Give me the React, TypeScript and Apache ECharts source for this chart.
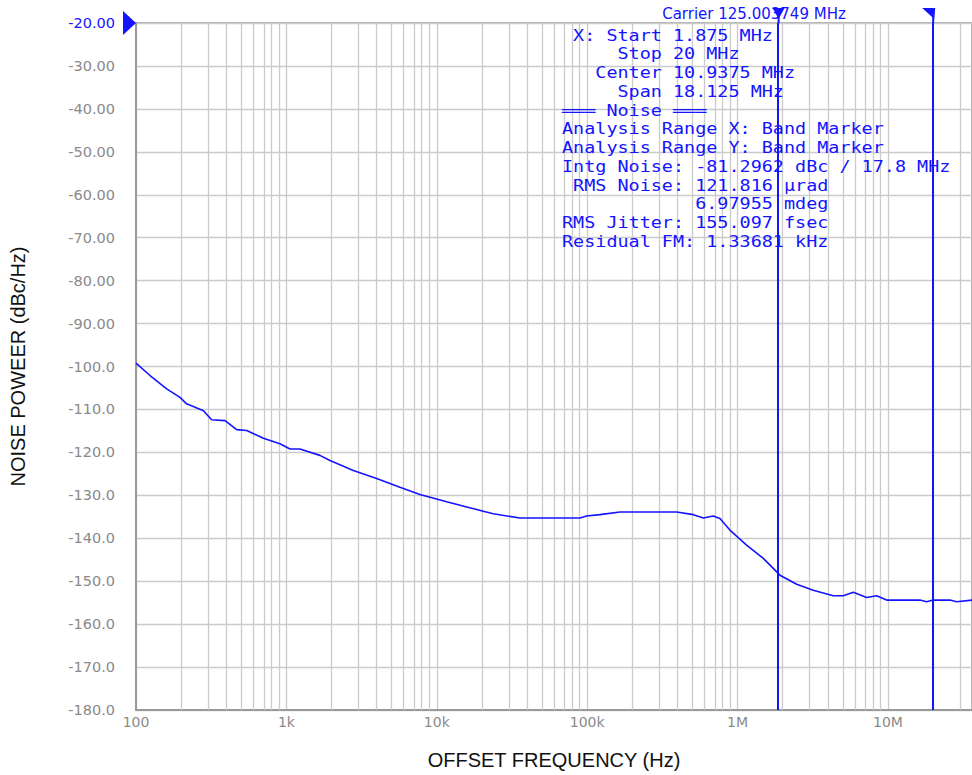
import React, { useEffect, useRef } from 'react';
import * as echarts from 'echarts';

// Offset frequency (Hz) and measured phase noise (dBc/Hz)
const freqHz = [
  100, 124, 160, 196, 217, 281, 318, 391, 467, 545, 703, 906, 1057, 1230, 1671, 1950,
  2786, 3981, 5689, 7727, 11640, 15810, 20370, 23770, 35730, 89540, 99080, 121600,
  165200, 393600, 508200, 592900, 690200, 763800, 889200, 1148000, 1483000, 1914000,
  2472000, 3184000, 4325000, 5047000, 5888000, 7211000, 8414000, 9795000, 16330000,
  18070000, 20000000, 25820000, 28640000, 36220000,
];
const noiseDbc = [
  -99.2, -102.1, -105.2, -107.2, -108.7, -110.3, -112.4, -112.6, -114.7, -114.9, -116.7,
  -118.0, -119.2, -119.2, -120.7, -121.9, -124.2, -126.1, -128.1, -129.8, -131.5, -132.7,
  -133.7, -134.3, -135.3, -135.3, -134.8, -134.5, -133.9, -133.9, -134.5, -135.3, -134.8,
  -135.4, -138.1, -141.6, -144.7, -148.6, -150.7, -152.1, -153.4, -153.4, -152.6, -153.8,
  -153.4, -154.4, -154.4, -154.8, -154.4, -154.4, -154.8, -154.4,
];

// Axis structure
const decades = [100, 1e3, 1e4, 1e5, 1e6, 1e7];
const xTickLabels = ['100', '1k', '10k', '100k', '1M', '10M'];
const minorMultipliers = [2, 3, 4, 5, 6, 7, 8, 9];
const xMinHz = 100;
const xMaxHz = 36220000;
const yMin = -180;
const yMax = -20;
const yStep = 10;

// Band markers (Hz)
const markerFreqs = [1875000, 20000000];

const carrierText = 'Carrier 125.003749 MHz';
const infoLines = [
  ' X: Start 1.875 MHz',
  '     Stop 20 MHz',
  '   Center 10.9375 MHz',
  '     Span 18.125 MHz',
  '═══ Noise ═══',
  'Analysis Range X: Band Marker',
  'Analysis Range Y: Band Marker',
  'Intg Noise: -81.2962 dBc / 17.8 MHz',
  ' RMS Noise: 121.816 µrad',
  '            6.97955 mdeg',
  'RMS Jitter: 155.097 fsec',
  'Residual FM: 1.33681 kHz',
];

const BLUE = '#1414ff';
const GRID = '#cbcbcb';
const AXIS = '#9a9a9a';
const LABEL = '#8a8a8a';

export default function App() {
  const ref = useRef<HTMLDivElement>(null);

  useEffect(() => {
    const chart = echarts.init(ref.current!, null, { renderer: 'svg' });
    const lg = (f: number) => Math.log10(f);
    const xMax = lg(xMaxHz);

    const labelMap: Record<number, string> = {};
    decades.forEach((d, i) => {
      labelMap[Math.round(lg(d))] = xTickLabels[i];
    });

    const minorLines: any[] = [];
    decades.forEach((d) =>
      minorMultipliers.forEach((m) => {
        const v = lg(d * m);
        if (v < xMax) minorLines.push({ xAxis: v });
      })
    );

    const seriesData = freqHz.map((f, i) => [lg(f), noiseDbc[i]]);

    chart.setOption({
      animation: false,
      grid: {
        left: 136,
        top: 23,
        right: 0,
        bottom: 63,
        show: true,
        borderColor: AXIS,
        borderWidth: 1.5,
      },
      xAxis: {
        type: 'value',
        min: lg(xMinHz),
        max: xMax,
        interval: 1,
        name: 'OFFSET FREQUENCY (Hz)',
        nameLocation: 'middle',
        nameGap: 40,
        nameTextStyle: { fontFamily: 'Liberation Sans', fontSize: 20, color: '#111' },
        axisLine: { show: true, lineStyle: { color: AXIS, width: 2 } },
        axisTick: { show: false },
        axisLabel: {
          margin: 5,
          fontFamily: 'DejaVu Sans',
          fontSize: 14,
          color: LABEL,
          showMaxLabel: false,
          formatter: (v: number) =>
            Math.abs(v - Math.round(v)) < 1e-6 ? labelMap[Math.round(v)] ?? '' : '',
        },
        splitLine: { show: true, lineStyle: { color: GRID, width: 1.3 } },
      },
      yAxis: {
        type: 'value',
        min: yMin,
        max: yMax,
        interval: yStep,
        name: 'NOISE POWEER (dBc/Hz)',
        nameLocation: 'middle',
        nameGap: 108,
        nameRotate: 90,
        nameTextStyle: { fontFamily: 'Liberation Sans', fontSize: 20, color: '#111' },
        axisLine: { show: true, lineStyle: { color: AXIS, width: 2 } },
        axisTick: { show: false },
        axisLabel: {
          margin: 21,
          fontFamily: 'DejaVu Sans',
          fontSize: 14.5,
          color: (v: any) => (Number(v) === yMax ? BLUE : LABEL),
          formatter: (v: number) => v.toPrecision(4),
        },
        splitLine: { show: true, lineStyle: { color: GRID, width: 1.3 } },
      },
      series: [
        {
          type: 'line',
          name: 'minor-grid',
          data: [seriesData[0]],
          showSymbol: false,
          silent: true,
          lineStyle: { opacity: 0 },
          z: 1,
          markLine: {
            silent: true,
            symbol: ['none', 'none'],
            label: { show: false },
            lineStyle: { color: GRID, width: 1.3, type: 'solid' },
            data: minorLines,
          },
        },
        {
          type: 'line',
          name: 'noise',
          data: seriesData,
          showSymbol: false,
          lineStyle: { color: BLUE, width: 1.6 },
          z: 5,
          markLine: {
            silent: true,
            symbol: ['none', 'none'],
            label: { show: false },
            lineStyle: { color: BLUE, width: 2, type: 'solid' },
            data: markerFreqs.map((f) => ({ xAxis: lg(f) })),
          },
        },
      ],
    });

    const topY = chart.convertToPixel({ yAxisIndex: 0 }, yMax) as number;
    const leftX = chart.convertToPixel({ xAxisIndex: 0 }, lg(xMinHz)) as number;
    const mx = markerFreqs.map((f) => chart.convertToPixel({ xAxisIndex: 0 }, lg(f)) as number);

    const graphics: any[] = [
      {
        type: 'polygon',
        shape: { points: [[leftX - 13, topY - 12], [leftX - 13, topY + 12], [leftX, topY]] },
        style: { fill: BLUE },
        z: 100,
      },
      {
        type: 'text',
        x: 754,
        y: 14,
        style: {
          text: carrierText,
          font: '15px "DejaVu Sans"',
          fill: BLUE,
          align: 'center',
          verticalAlign: 'middle',
        },
        z: 100,
      },
      {
        type: 'text',
        x: 562,
        y: 26,
        scaleX: 1.23,
        style: {
          text: infoLines.join('\n'),
          font: '15px "DejaVu Sans Mono"',
          fill: BLUE,
          lineHeight: 18.73,
          verticalAlign: 'top',
        },
        z: 100,
      },
    ];
    mx.forEach((x, i) => {
      graphics.push({
        type: 'line',
        shape: { x1: x, y1: 9, x2: x, y2: topY },
        style: { stroke: BLUE, lineWidth: 2 },
        z: 100,
      });
      graphics.push({
        type: 'polygon',
        shape: {
          points:
            i === 0
              ? [[x - 6, 8], [x + 6, 8], [x, 19]]
              : [[x - 11, 8], [x + 2, 8], [x + 1, 19]],
        },
        style: { fill: BLUE },
        z: 100,
      });
    });
    chart.setOption({ graphic: graphics });

    return () => chart.dispose();
  }, []);

  return (
    <div
      ref={ref}
      style={{ position: 'absolute', left: 0, top: 0, width: 972, height: 775, background: '#fff' }}
    />
  );
}
